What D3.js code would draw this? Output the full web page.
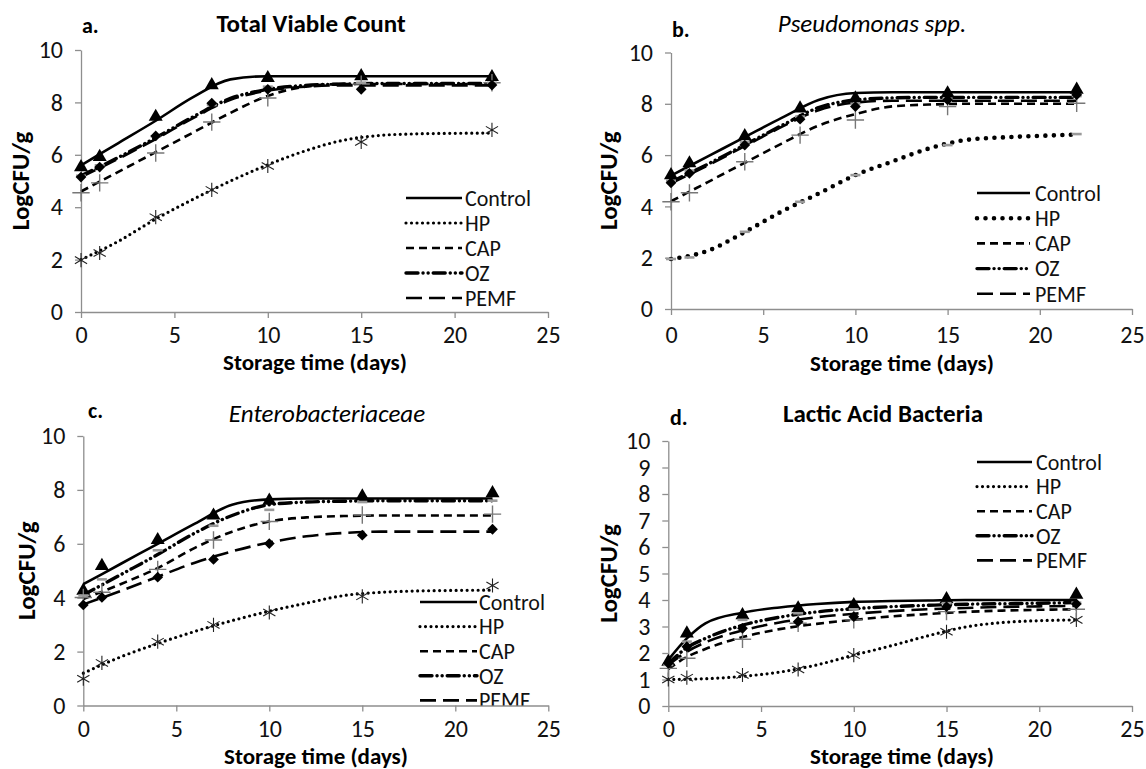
<!DOCTYPE html>
<html>
<head>
<meta charset="utf-8">
<script src="https://cdnjs.cloudflare.com/ajax/libs/d3/7.8.5/d3.min.js"></script>
<style>
  body { margin: 0; background: #fff; }
  svg { display: block; font-family: Carlito, Lato, sans-serif; }
  .axis path, .axis line { stroke: #8e8e8e; stroke-width: 1.3; }
  .axis text { fill: #111; font-size: 24px; font-family: Carlito, Lato, sans-serif; }
</style>
</head>
<body>
<svg id="chart" width="1146" height="769"></svg>
<script>
// sampling days and labels
const days = [0, 1, 4, 7, 10, 15, 22];
const seriesNames = ["Control", "HP", "CAP", "OZ", "PEMF"];
const xTicks = [0, 5, 10, 15, 20, 25];
const yTicksEven = [0, 2, 4, 6, 8, 10];
const yTicksAll = [0, 1, 2, 3, 4, 5, 6, 7, 8, 9, 10];
const panelLetters = ["a.", "b.", "c.", "d."];
const panelTitles = ["Total Viable Count", "Pseudomonas spp.", "Enterobacteriaceae", "Lactic Acid Bacteria"];

// fitted curves are read at these days
const fitDays = [0, 2, 4, 6, 8, 10, 12, 14, 16, 18, 20, 22];
const labFitDays = [0, 1, 2, 4, 6, 8, 10, 12, 14, 16, 18, 20, 22];

// a. total viable count
const tvcControl = [5.53, 5.92, 7.45, 8.66, 8.93, 9.0, 8.97];
const tvcHP = [1.98, 2.25, 3.62, 4.66, 5.57, 6.49, 6.95];
const tvcCAP = [4.55, 4.93, 6.07, 7.25, 8.17, 8.7, 8.75];
const tvcOZ = [5.2, 5.6, 6.7, 7.9, 8.6, 8.75, 8.75];
const tvcPEMF = [5.15, 5.53, 6.72, 7.97, 8.5, 8.5, 8.66];
const tvcControlFit = [5.6, 6.45, 7.3, 8.2, 8.88, 9.0, 9.0, 9.0, 9.0, 9.0, 9.0, 9.0];
const tvcHPFit = [2.0, 2.7, 3.55, 4.3, 5.0, 5.62, 6.15, 6.55, 6.74, 6.8, 6.82, 6.83];
const tvcCAPFit = [4.6, 5.35, 6.1, 6.85, 7.6, 8.25, 8.6, 8.7, 8.7, 8.7, 8.7, 8.7];
const tvcOZFit = [5.2, 5.9, 6.65, 7.45, 8.15, 8.5, 8.65, 8.7, 8.72, 8.72, 8.72, 8.72];
const tvcPEMFFit = [5.15, 5.85, 6.6, 7.4, 8.1, 8.45, 8.6, 8.65, 8.65, 8.65, 8.65, 8.65];

// b. pseudomonas
const psControl = [5.22, 5.68, 6.74, 7.82, 8.21, 8.41, 8.55];
const psHP = [1.95, 2.01, 3.01, 4.18, 5.22, 6.39, 6.82];
const psCAP = [4.18, 4.53, 5.74, 6.78, 7.37, 7.89, 8.02];
const psOZ = [5.0, 5.4, 6.5, 7.5, 8.0, 8.2, 8.3];
const psPEMF = [4.92, 5.29, 6.39, 7.4, 7.89, 8.15, 8.35];
const psControlFit = [5.2, 5.95, 6.7, 7.45, 8.15, 8.42, 8.45, 8.45, 8.45, 8.45, 8.45, 8.45];
const psHPFit = [1.95, 2.27, 3.0, 3.8, 4.5, 5.22, 5.75, 6.26, 6.59, 6.69, 6.75, 6.8];
const psCAPFit = [4.2, 4.95, 5.7, 6.45, 7.15, 7.6, 7.9, 7.97, 8.0, 8.0, 8.0, 8.0];
const psOZFit = [4.95, 5.65, 6.4, 7.15, 7.85, 8.15, 8.23, 8.25, 8.25, 8.25, 8.25, 8.25];
const psPEMFFit = [4.9, 5.6, 6.35, 7.1, 7.75, 8.05, 8.12, 8.12, 8.12, 8.12, 8.12, 8.12];

// c. enterobacteriaceae
const enControl = [4.26, 5.18, 6.14, 7.05, 7.6, 7.76, 7.88];
const enHP = [0.99, 1.58, 2.37, 2.99, 3.45, 4.05, 4.45];
const enCAP = [4.01, 4.2, 5.05, 6.14, 6.83, 7.07, 7.1];
const enOZ = [4.08, 4.68, 5.76, 6.67, 7.26, 7.55, 7.6];
const enPEMF = [3.73, 4.01, 4.76, 5.42, 6.01, 6.32, 6.54];
const enControlFit = [4.5, 5.25, 6.0, 6.75, 7.45, 7.65, 7.68, 7.68, 7.68, 7.68, 7.68, 7.68];
const enHPFit = [1.2, 1.8, 2.3, 2.75, 3.15, 3.5, 3.8, 4.08, 4.2, 4.25, 4.27, 4.28];
const enCAPFit = [3.95, 4.5, 5.1, 5.85, 6.45, 6.83, 6.98, 7.03, 7.05, 7.05, 7.05, 7.05];
const enOZFit = [4.1, 4.85, 5.6, 6.4, 7.05, 7.45, 7.55, 7.58, 7.6, 7.6, 7.6, 7.6];
const enPEMFFit = [3.75, 4.25, 4.78, 5.3, 5.72, 6.05, 6.28, 6.4, 6.45, 6.45, 6.45, 6.45];

// d. lactic acid bacteria
const labControl = [1.67, 2.74, 3.43, 3.69, 3.81, 4.03, 4.2];
const labHP = [1.0, 1.07, 1.17, 1.38, 1.92, 2.8, 3.25];
const labCAP = [1.42, 1.8, 2.52, 3.12, 3.25, 3.56, 3.65];
const labOZ = [1.55, 2.43, 3.25, 3.5, 3.65, 3.88, 3.9];
const labPEMF = [1.61, 2.24, 2.93, 3.18, 3.37, 3.75, 3.85];
const labControlFit = [1.74, 2.55, 3.12, 3.52, 3.72, 3.85, 3.93, 3.96, 3.98, 4.0, 4.0, 4.0, 4.0];
const labHPFit = [1.0, 1.01, 1.03, 1.12, 1.28, 1.55, 1.92, 2.27, 2.65, 2.98, 3.15, 3.22, 3.25];
const labCAPFit = [1.4, 1.85, 2.15, 2.6, 2.9, 3.1, 3.25, 3.38, 3.47, 3.55, 3.6, 3.63, 3.65];
const labOZFit = [1.6, 2.2, 2.55, 3.05, 3.35, 3.55, 3.67, 3.75, 3.8, 3.84, 3.86, 3.88, 3.9];
const labPEMFFit = [1.55, 2.05, 2.4, 2.85, 3.15, 3.35, 3.48, 3.58, 3.65, 3.7, 3.74, 3.76, 3.78];

var svg = d3.select("#chart");

var lineStyle = {
  Control: {dash: null, width: 2.6, cap: "butt"},
  HP: {dash: "0,5.5", width: 3.2, cap: "round"},
  CAP: {dash: "8,5", width: 2.6, cap: "butt"},
  OZ: {dash: "12,5,0.1,5,0.1,5", width: 3.4, cap: "round"},
  PEMF: {dash: "16,7", width: 2.6, cap: "butt"}
};
var markerOf = {Control: "triangle", HP: "asterisk", CAP: "plus", OZ: "dash", PEMF: "diamond"};

var panels = [
  {frame: {l: 81, r: 548, t: 50, b: 312}, yTicks: yTicksEven, fd: fitDays, xPad: 8,
   obs: [tvcControl, tvcHP, tvcCAP, tvcOZ, tvcPEMF],
   fit: [tvcControlFit, tvcHPFit, tvcCAPFit, tvcOZFit, tvcPEMFFit],
   titleX: 311, titleY: 32, letterX: 82, letterY: 33, xLabX: 315, xLabY: 370, yLabX: 20,
   legend: {x1: 406, x2: 462, tx: 465, y: 198, dy: 25}},
  {frame: {l: 671, r: 1132, t: 52.5, b: 309}, yTicks: yTicksEven, fd: fitDays, xPad: 11, hpBig: true,
   obs: [psControl, psHP, psCAP, psOZ, psPEMF],
   fit: [psControlFit, psHPFit, psCAPFit, psOZFit, psPEMFFit],
   titleX: 872, titleY: 32, letterX: 672, letterY: 37, xLabX: 902, xLabY: 371, yLabX: 608,
   legend: {x1: 977, x2: 1030, tx: 1035, y: 193, dy: 25.2}},
  {frame: {l: 83.3, r: 548.3, t: 436, b: 705.5}, yTicks: yTicksEven, fd: fitDays, xPad: 8,
   obs: [enControl, enHP, enCAP, enOZ, enPEMF],
   fit: [enControlFit, enHPFit, enCAPFit, enOZFit, enPEMFFit],
   titleX: 327, titleY: 422, letterX: 88, letterY: 418, xLabX: 316, xLabY: 764, yLabX: 26,
   legend: {x1: 420, x2: 477, tx: 479, y: 602, dy: 24.6}},
  {frame: {l: 668.3, r: 1132, t: 441, b: 706}, yTicks: yTicksAll, fd: labFitDays, xPad: 8,
   obs: [labControl, labHP, labCAP, labOZ, labPEMF],
   fit: [labControlFit, labHPFit, labCAPFit, labOZFit, labPEMFFit],
   titleX: 883, titleY: 422, letterX: 670, letterY: 425, xLabX: 902, xLabY: 764, yLabX: 608,
   legend: {x1: 977, x2: 1032, tx: 1036, y: 462, dy: 24.6}}
];

panels.forEach(function(p, pi) {
  var f = p.frame;
  var x = d3.scaleLinear().domain([0, 25]).range([f.l, f.r]);
  var y = d3.scaleLinear().domain([0, 10]).range([f.b, f.t]);
  var g = svg.append("g");

  g.append("g")
    .attr("class", "axis")
    .attr("transform", "translate(0," + f.b + ")")
    .call(d3.axisBottom(x).tickValues(xTicks).tickSizeInner(6).tickSizeOuter(0).tickPadding(p.xPad));

  g.append("g")
    .attr("class", "axis")
    .attr("transform", "translate(" + f.l + ",0)")
    .call(d3.axisLeft(y).tickValues(p.yTicks).tickSizeInner(6).tickSizeOuter(0).tickPadding(12));

  // titles
  var italic = (pi === 1 || pi === 2);
  g.append("text")
    .attr("x", p.titleX).attr("y", p.titleY)
    .attr("text-anchor", "middle")
    .style("font-size", "25px")
    .style("font-style", italic ? "italic" : "normal")
    .style("font-weight", italic ? "normal" : "bold")
    .text(panelTitles[pi]);

  g.append("text")
    .attr("x", p.letterX).attr("y", p.letterY)
    .style("font-size", "22px").style("font-weight", "bold")
    .text(panelLetters[pi]);

  g.append("text")
    .attr("x", p.xLabX).attr("y", p.xLabY)
    .attr("text-anchor", "middle")
    .style("font-size", "23px").style("font-weight", "bold")
    .text("Storage time (days)");

  g.append("text")
    .attr("transform", "translate(" + p.yLabX + "," + ((f.t + f.b) / 2) + ") rotate(-90)")
    .attr("text-anchor", "middle").attr("dy", "0.35em")
    .style("font-size", "25px").style("font-weight", "bold")
    .text("LogCFU/g");

  // fitted curves
  var line = d3.line()
    .curve(d3.curveMonotoneX)
    .x(function(d) { return x(d[0]); })
    .y(function(d) { return y(d[1]); });

  seriesNames.forEach(function(name, si) {
    var st = lineStyle[name];
    var w = st.width, dash = st.dash;
    if (name === "HP" && p.hpBig) { w = 4.6; dash = "0,8.5"; }
    g.append("path")
      .datum(p.fd.map(function(d, i) { return [d, p.fit[si][i]]; }))
      .attr("d", line)
      .attr("fill", "none")
      .attr("stroke", "#000")
      .attr("stroke-width", w)
      .attr("stroke-linecap", st.cap)
      .attr("stroke-dasharray", dash);
  });

  // measured points
  seriesNames.forEach(function(name, si) {
    var kind = markerOf[name];
    if (name === "HP" && p.hpBig) kind = "dash";
    var pts = g.append("g").selectAll("path")
      .data(days.map(function(d, i) { return [d, p.obs[si][i]]; }))
      .enter().append("path")
      .attr("transform", function(d) {
        return "translate(" + x(d[0]) + "," + y(d[1]) + ")" + (kind === "diamond" ? " rotate(45)" : "");
      });
    if (kind === "triangle") {
      pts.attr("d", d3.symbol(d3.symbolTriangle, 85)).attr("fill", "#000");
    } else if (kind === "diamond") {
      pts.attr("d", d3.symbol(d3.symbolSquare, 58)).attr("fill", "#000");
    } else if (kind === "asterisk") {
      pts.attr("d", d3.symbol(d3.symbolAsterisk, 140)).attr("fill", "none")
        .attr("stroke", "#222").attr("stroke-width", 1.1);
    } else if (kind === "plus") {
      pts.attr("d", d3.symbol(d3.symbolPlus, 100)).attr("fill", "none")
        .attr("stroke", "#777").attr("stroke-width", 1.4);
    } else {
      pts.attr("d", "M-5,0H5").attr("stroke", "#9a9a9a").attr("stroke-width", 2.6);
    }
  });

  // legend, clipped to the plot area
  var clipId = "clip" + pi;
  svg.append("clipPath").attr("id", clipId)
    .append("rect").attr("x", f.l).attr("y", 0).attr("width", f.r - f.l + 20).attr("height", f.b);
  var lg = g.append("g").attr("clip-path", "url(#" + clipId + ")");
  var L = p.legend;
  seriesNames.forEach(function(name, si) {
    var st = lineStyle[name];
    var yy = L.y + si * L.dy;
    lg.append("line")
      .attr("x1", L.x1).attr("x2", L.x2).attr("y1", yy).attr("y2", yy)
      .attr("stroke", "#000")
      .attr("stroke-width", name === "HP" && p.hpBig ? 4.6 : st.width)
      .attr("stroke-linecap", st.cap)
      .attr("stroke-dasharray", name === "HP" && p.hpBig ? "0,8.5" : st.dash);
    lg.append("text")
      .attr("x", L.tx).attr("y", yy).attr("dy", "0.35em")
      .style("font-size", "22px").style("fill", "#111")
      .text(name);
  });
});
</script>
</body>
</html>
